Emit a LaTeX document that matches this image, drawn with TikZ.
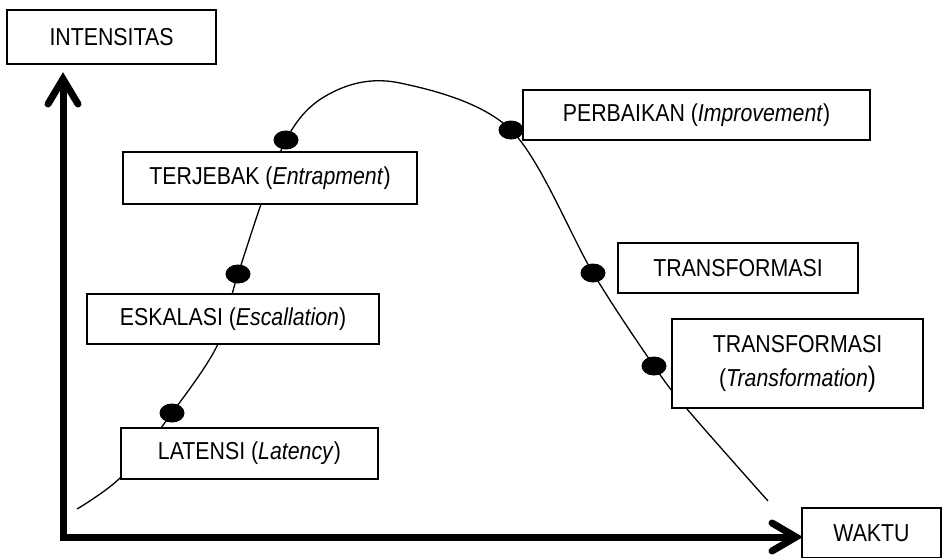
\documentclass[tikz,border=0pt]{standalone}
\usepackage{fontspec}
\setmainfont{Liberation Sans}[FakeStretch=0.87]
\usetikzlibrary{shapes.geometric,calc}
\begin{document}
\begin{tikzpicture}[x=1pt,y=-1pt,
  labelbox/.style={draw, line width=1.1pt, fill=white, inner sep=0pt, align=center,
    font=\fontsize{24.5}{34}\selectfont},
  axisline/.style={line width=7pt},
  arrowhead/.style={line width=7pt, line cap=round, line join=miter},
  curveline/.style={line width=1.3pt},
  dotmark/.style={ellipse, fill=black, draw=none, minimum width=25pt, minimum height=19pt, inner sep=0pt}]
\useasboundingbox (0,0) rectangle (942,557);

% coordinates
\coordinate (o) at (63,537);
\coordinate (yv) at (63,79);
\coordinate (xv) at (796,537);
\coordinate (c1) at (286,140);
\coordinate (c2) at (238,274);
\coordinate (c3) at (172,413);
\coordinate (c4) at (511,130);
\coordinate (c5) at (593,273);
\coordinate (c6) at (654,366);
\coordinate (s0) at (77,509);
\coordinate (s1) at (768,501);

% curve
\draw[curveline] plot[smooth, tension=0.55] coordinates {(s0) (121,477) (c3) (218,344) (c2) (c1) (333,92) (400,83) (c4) (c5) (c6) (687,409) (s1)};

% axes
\draw[axisline] ($(o)+(0,-1)$) -- ($(yv)+(0,2)$);
\draw[arrowhead] ($(yv)+(-15,25)$) -- (yv) -- ($(yv)+(15,25)$);
\draw[axisline] (59.5,537) -- ($(xv)+(-2,0)$);
\draw[arrowhead] ($(xv)+(-24,-14)$) -- (xv) -- ($(xv)+(-24,14)$);

% boxes
\node[labelbox, minimum width=209pt, minimum height=54pt] (intensitas) at (111.5,37) {INTENSITAS};
\node[labelbox, minimum width=294pt, minimum height=52pt] (terjebak) at (270,178) {TERJEBAK (\textit{Entrapment})};
\node[labelbox, minimum width=292pt, minimum height=50pt] (eskalasi) at (233,319) {ESKALASI (\textit{Escallation})};
\node[labelbox, minimum width=257pt, minimum height=51pt] (latensi) at (249.5,453.5) {LATENSI (\textit{Latency})};
\node[labelbox, minimum width=347pt, minimum height=50pt] (perbaikan) at (696.5,115) {PERBAIKAN (\textit{Improvement})};
\node[labelbox, minimum width=240pt, minimum height=50pt] (trans1) at (738,268) {TRANSFORMASI};
\node[labelbox, minimum width=251pt, minimum height=89pt] (trans2) at (797.5,363.5) {TRANSFORMASI\\(\textit{Transformation}{\fontsize{28}{34}\selectfont)}};
\node[labelbox, minimum width=139pt, minimum height=50pt] (waktu) at (871.5,533) {WAKTU};

% dots
\node[dotmark] (d1) at (c1) {};
\node[dotmark] (d2) at (c2) {};
\node[dotmark] (d3) at (c3) {};
\node[dotmark] (d4) at (c4) {};
\node[dotmark] (d5) at (c5) {};
\node[dotmark] (d6) at (c6) {};
\end{tikzpicture}
\end{document}
